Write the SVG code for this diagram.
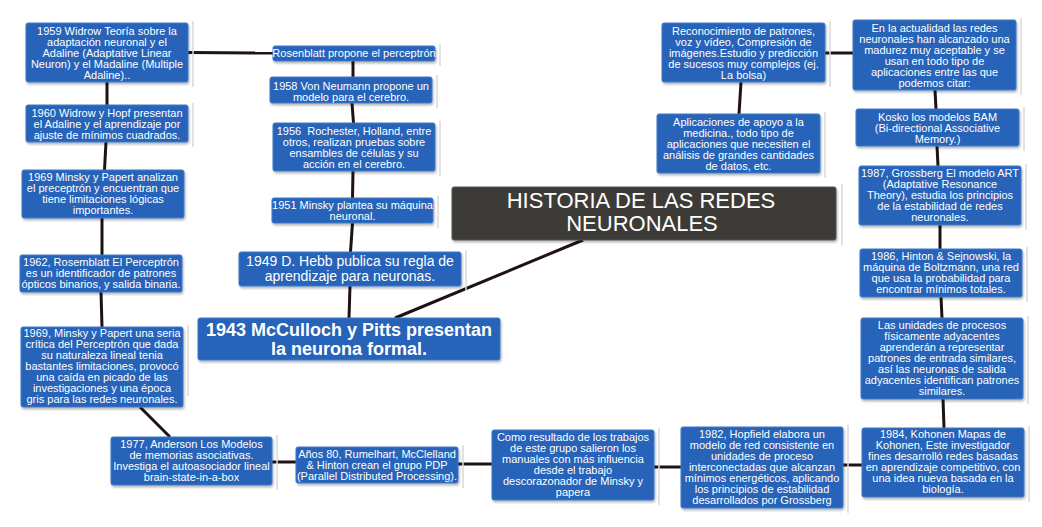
<svg xmlns="http://www.w3.org/2000/svg" width="1042" height="527" viewBox="0 0 1042 527">
<defs>
<filter id="ds" x="-10%" y="-10%" width="125%" height="140%">
<feDropShadow dx="1" dy="2" stdDeviation="1.2" flood-color="#000" flood-opacity="0.28"/>
</filter>
<style>
.n{fill:#2664b9;stroke:#3d78c9;stroke-width:1;filter:url(#ds)}
.tb{fill:#3d3a39;stroke:#555;stroke-width:1;filter:url(#ds)}
.sh{stroke:#d9d9d9;stroke-width:1.5}
text{font-family:"Liberation Sans",Arial,sans-serif;fill:#fff;text-anchor:middle}
.s{font-size:11px}
.m{font-size:14px}
.b{font-size:18px;font-weight:bold}
.t{font-size:22px}
.c{stroke:#1e1212;stroke-width:3;fill:none;stroke-linecap:butt}
</style>
</defs>
<rect width="1042" height="527" fill="#fff"/>

<g id="connectors">
<line class="c" x1="188" y1="52.5" x2="273" y2="53"/>
<line class="c" x1="353" y1="61" x2="353" y2="77"/>
<line class="c" x1="352" y1="103" x2="353.5" y2="123"/>
<line class="c" x1="353" y1="171" x2="352.5" y2="198"/>
<line class="c" x1="352.5" y1="223" x2="350.5" y2="252"/>
<line class="c" x1="350" y1="286" x2="349" y2="318"/>
<line class="c" x1="583" y1="240" x2="395" y2="318"/>
<line class="c" x1="107" y1="82" x2="107" y2="105"/>
<line class="c" x1="106" y1="142" x2="104.5" y2="170"/>
<line class="c" x1="102" y1="218" x2="102" y2="255"/>
<line class="c" x1="101" y1="292" x2="102" y2="327"/>
<line class="c" x1="140" y1="407" x2="170" y2="437"/>
<line class="c" x1="272" y1="462" x2="296" y2="462"/>
<line class="c" x1="458" y1="464" x2="492" y2="464"/>
<line class="c" x1="654" y1="467" x2="681" y2="467"/>
<line class="c" x1="843" y1="465" x2="862" y2="465"/>
<line class="c" x1="944" y1="428" x2="943" y2="399"/>
<line class="c" x1="942" y1="318" x2="941" y2="297"/>
<line class="c" x1="940" y1="249" x2="940" y2="225"/>
<line class="c" x1="938" y1="166" x2="937" y2="146"/>
<line class="c" x1="936" y1="109" x2="935" y2="90"/>
<line class="c" x1="825" y1="53" x2="853" y2="53"/>
<line class="c" x1="741" y1="82" x2="739" y2="114"/>
</g>

<g id="title">
<line class="sh" x1="842" y1="184" x2="842" y2="245"/>
<rect class="tb" x="452" y="187" width="384" height="53" rx="2"/>
<text class="t" x="641" y="208">HISTORIA DE LAS REDES</text>
<text class="t" x="642" y="231">NEURONALES</text>
</g>

<g id="n1959">
<line class="sh" x1="193" y1="21" x2="193" y2="87"/>
<rect class="n" x="26" y="23" width="162" height="59" rx="2"/>
<text class="s"><tspan x="107" y="34.5">1959 Widrow Teoría sobre la</tspan><tspan x="107" y="45.5">adaptación neuronal y el</tspan><tspan x="107" y="56.5">Adaline (Adaptative Linear</tspan><tspan x="107" y="67.5">Neuron) y el Madaline (Multiple</tspan><tspan x="107" y="78.5">Adaline)..</tspan></text>
</g>

<g id="nRosenblatt">
<line class="sh" x1="440" y1="44" x2="440" y2="66"/>
<rect class="n" x="273" y="46" width="162" height="15" rx="2"/>
<text class="s" x="354" y="57">Rosenblatt propone el perceptrón</text>
</g>

<g id="n1958">
<line class="sh" x1="437" y1="75" x2="437" y2="108"/>
<rect class="n" x="270" y="77" width="162" height="26" rx="2"/>
<text class="s"><tspan x="351" y="89.5">1958 Von Neumann propone un</tspan><tspan x="351" y="100.5">modelo para el cerebro.</tspan></text>
</g>

<g id="n1956">
<line class="sh" x1="440" y1="121" x2="440" y2="176"/>
<rect class="n" x="273" y="123" width="162" height="48" rx="2"/>
<text class="s" style="white-space:pre"><tspan x="354" y="135">1956  Rochester, Holland, entre</tspan><tspan x="354" y="146">otros, realizan pruebas sobre</tspan><tspan x="354" y="157">ensambles de células y su</tspan><tspan x="354" y="168">acción en el cerebro.</tspan></text>
</g>

<g id="n1951">
<line class="sh" x1="438" y1="196" x2="438" y2="228"/>
<rect class="n" x="272" y="198" width="161" height="25" rx="2"/>
<text class="s"><tspan x="352.5" y="208.5">1951 Minsky plantea su máquina</tspan><tspan x="352.5" y="219.5">neuronal.</tspan></text>
</g>

<g id="n1949">
<line class="sh" x1="466" y1="250" x2="466" y2="291"/>
<rect class="n" x="239" y="252" width="222" height="34" rx="2"/>
<text class="m"><tspan x="350" y="266">1949 D. Hebb publica su regla de</tspan><tspan x="350" y="281">aprendizaje para neuronas.</tspan></text>
</g>

<g id="n1943">
<rect class="n" x="198" y="318" width="302" height="42" rx="2"/>
<text class="b"><tspan x="349" y="335.5">1943 McCulloch y Pitts presentan</tspan><tspan x="349" y="354.5">la neurona formal.</tspan></text>
</g>

<g id="n1960">
<line class="sh" x1="193" y1="103" x2="193" y2="147"/>
<rect class="n" x="26" y="105" width="162" height="37" rx="2"/>
<text class="s"><tspan x="107" y="116.5">1960 Widrow y Hopf presentan</tspan><tspan x="107" y="127.5">el Adaline y el aprendizaje por</tspan><tspan x="107" y="138.5">ajuste de mínimos cuadrados.</tspan></text>
</g>

<g id="n1969a">
<rect class="n" x="22" y="170" width="162" height="48" rx="2"/>
<text class="s"><tspan x="103" y="181">1969 Minsky y Papert analizan</tspan><tspan x="103" y="192">el preceptrón y encuentran que</tspan><tspan x="103" y="203">tiene limitaciones lógicas</tspan><tspan x="103" y="214">importantes.</tspan></text>
</g>

<g id="n1962">
<rect class="n" x="20" y="255" width="162" height="37" rx="2"/>
<text class="s"><tspan x="101" y="266">1962, Rosemblatt El Perceptrón</tspan><tspan x="101" y="277">es un identificador de patrones</tspan><tspan x="101" y="288">ópticos binarios, y salida binaria.</tspan></text>
</g>

<g id="n1969b">
<line class="sh" x1="188" y1="325" x2="188" y2="396"/>
<rect class="n" x="21" y="327" width="162" height="80" rx="2"/>
<text class="s"><tspan x="102" y="337">1969, Minsky y Papert una seria</tspan><tspan x="102" y="348">crítica del Perceptrón que dada</tspan><tspan x="102" y="359">su naturaleza lineal tenia</tspan><tspan x="102" y="370">bastantes limitaciones, provocó</tspan><tspan x="102" y="381">una caída en picado de las</tspan><tspan x="102" y="392">investigaciones y una época</tspan><tspan x="102" y="403">gris para las redes neuronales.</tspan></text>
</g>

<g id="n1977">
<line class="sh" x1="277" y1="435" x2="277" y2="490"/>
<rect class="n" x="111" y="437" width="161" height="48" rx="2"/>
<text class="s"><tspan x="191.5" y="448">1977, Anderson Los Modelos</tspan><tspan x="191.5" y="459">de memorias asociativas.</tspan><tspan x="191.5" y="470">Investiga el autoasociador lineal</tspan><tspan x="191.5" y="481">brain-state-in-a-box</tspan></text>
</g>

<g id="n80">
<line class="sh" x1="463" y1="445" x2="463" y2="488"/>
<rect class="n" x="296" y="447" width="162" height="36" rx="2"/>
<text class="s"><tspan x="377" y="458">Años 80, Rumelhart, McClelland</tspan><tspan x="377" y="469">&amp; Hinton crean el grupo PDP</tspan><tspan x="377" y="480">(Parallel Distributed Processing).</tspan></text>
</g>

<g id="nComo">
<line class="sh" x1="659" y1="428" x2="659" y2="505"/>
<rect class="n" x="492" y="430" width="162" height="70" rx="2"/>
<text class="s"><tspan x="573" y="441">Como resultado de los trabajos</tspan><tspan x="573" y="452">de este grupo salieron los</tspan><tspan x="573" y="463">manuales con más influencia</tspan><tspan x="573" y="474">desde el trabajo</tspan><tspan x="573" y="485">descorazonador de Minsky y</tspan><tspan x="573" y="496">papera</tspan></text>
</g>

<g id="n1982">
<line class="sh" x1="848" y1="425" x2="848" y2="513"/>
<rect class="n" x="681" y="427" width="162" height="81" rx="2"/>
<text class="s"><tspan x="762" y="438">1982, Hopfield elabora un</tspan><tspan x="762" y="449">modelo de red consistente en</tspan><tspan x="762" y="460">unidades de proceso</tspan><tspan x="762" y="471">interconectadas que alcanzan</tspan><tspan x="762" y="482">mínimos energéticos, aplicando</tspan><tspan x="762" y="493">los principios de estabilidad</tspan><tspan x="762" y="504">desarrollados por Grossberg</tspan></text>
</g>

<g id="n1984">
<line class="sh" x1="1029" y1="426" x2="1029" y2="502"/>
<rect class="n" x="862" y="428" width="162" height="69" rx="2"/>
<text class="s"><tspan x="943" y="438">1984, Kohonen Mapas de</tspan><tspan x="943" y="449">Kohonen, Este investigador</tspan><tspan x="943" y="460">fines desarrolló redes basadas</tspan><tspan x="943" y="471">en aprendizaje competitivo, con</tspan><tspan x="943" y="482">una idea nueva basada en la</tspan><tspan x="943" y="493">biología.</tspan></text>
</g>

<g id="nUnidades">
<line class="sh" x1="1028" y1="316" x2="1028" y2="404"/>
<rect class="n" x="861" y="318" width="162" height="81" rx="2"/>
<text class="s"><tspan x="942" y="329">Las unidades de procesos</tspan><tspan x="942" y="340">físicamente adyacentes</tspan><tspan x="942" y="351">aprenderán a representar</tspan><tspan x="942" y="362">patrones de entrada similares,</tspan><tspan x="942" y="373">así las neuronas de salida</tspan><tspan x="942" y="384">adyacentes identifican patrones</tspan><tspan x="942" y="395">similares.</tspan></text>
</g>

<g id="n1986">
<line class="sh" x1="1027" y1="247" x2="1027" y2="302"/>
<rect class="n" x="860" y="249" width="162" height="48" rx="2"/>
<text class="s"><tspan x="941" y="260">1986, Hinton &amp; Sejnowski, la</tspan><tspan x="941" y="271">máquina de Boltzmann, una red</tspan><tspan x="941" y="282">que usa la probabilidad para</tspan><tspan x="941" y="293">encontrar mínimos totales.</tspan></text>
</g>

<g id="n1987">
<line class="sh" x1="1026" y1="164" x2="1026" y2="230"/>
<rect class="n" x="859" y="166" width="162" height="59" rx="2"/>
<text class="s"><tspan x="940" y="176.5">1987, Grossberg El modelo ART</tspan><tspan x="940" y="187.5">(Adaptative Resonance</tspan><tspan x="940" y="198.5">Theory), estudia los principios</tspan><tspan x="940" y="209.5">de la estabilidad de redes</tspan><tspan x="940" y="220.5">neuronales.</tspan></text>
</g>

<g id="nKosko">
<line class="sh" x1="1024" y1="107" x2="1024" y2="151"/>
<rect class="n" x="856" y="109" width="163" height="37" rx="2"/>
<text class="s"><tspan x="937.5" y="120.5">Kosko los modelos BAM</tspan><tspan x="937.5" y="131.5">(Bi-directional Associative</tspan><tspan x="937.5" y="142.5">Memory.)</tspan></text>
</g>

<g id="nActualidad">
<line class="sh" x1="1021" y1="18" x2="1021" y2="95"/>
<rect class="n" x="853" y="20" width="163" height="70" rx="2"/>
<text class="s"><tspan x="934.5" y="31.5">En la actualidad las redes</tspan><tspan x="934.5" y="42.5">neuronales han alcanzado una</tspan><tspan x="934.5" y="53.5">madurez muy aceptable y se</tspan><tspan x="934.5" y="64.5">usan en todo tipo de</tspan><tspan x="934.5" y="75.5">aplicaciones entre las que</tspan><tspan x="934.5" y="86.5">podemos citar:</tspan></text>
</g>

<g id="nReconocimiento">
<line class="sh" x1="830" y1="21" x2="830" y2="87"/>
<rect class="n" x="662" y="23" width="163" height="59" rx="2"/>
<text class="s"><tspan x="743.5" y="34.5">Reconocimiento de patrones,</tspan><tspan x="743.5" y="45.5">voz y vídeo, Compresión de</tspan><tspan x="743.5" y="56.5">imágenes.Estudio y predicción</tspan><tspan x="743.5" y="67.5">de sucesos muy complejos (ej.</tspan><tspan x="743.5" y="78.5">La bolsa)</tspan></text>
</g>

<g id="nAplicaciones">
<line class="sh" x1="825" y1="112" x2="825" y2="178"/>
<rect class="n" x="657" y="114" width="163" height="59" rx="2"/>
<text class="s"><tspan x="738.5" y="125.5">Aplicaciones de apoyo a la</tspan><tspan x="738.5" y="136.5">medicina., todo tipo de</tspan><tspan x="738.5" y="147.5">aplicaciones que necesiten el</tspan><tspan x="738.5" y="158.5">análisis de grandes cantidades</tspan><tspan x="738.5" y="169.5">de datos, etc.</tspan></text>
</g>
</svg>
